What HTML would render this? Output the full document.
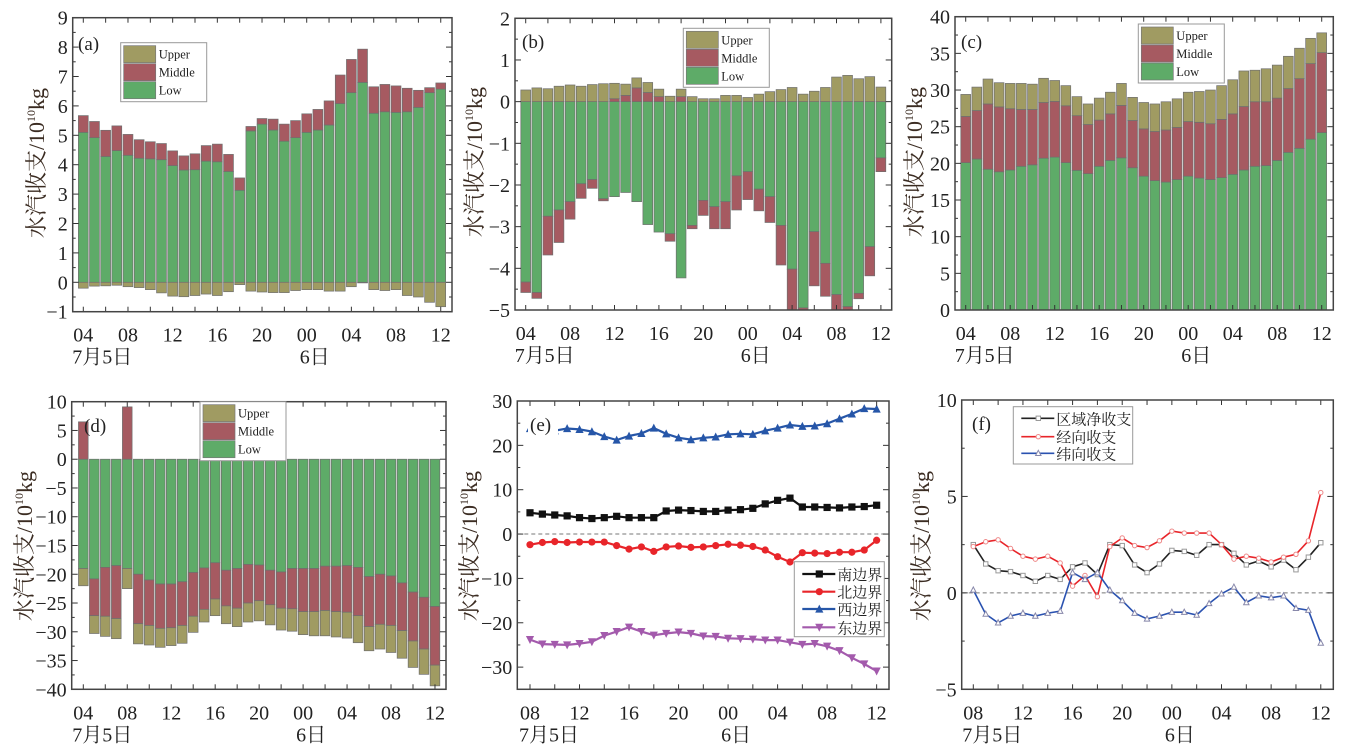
<!DOCTYPE html>
<html><head><meta charset="utf-8"><style>
html,body{margin:0;padding:0;background:#fff;}
svg{display:block;}
text{font-family:"Liberation Serif","Noto Serif CJK SC","Noto Sans CJK SC",serif;fill:#222;}
</style></head><body>
<svg id="fig" width="1356" height="753" viewBox="0 0 1356 753" xmlns="http://www.w3.org/2000/svg">
<rect x="0" y="0" width="1356" height="753" fill="#fff"/>
</svg>
<script>
const catsBar = ['04','05','06','07','08','09','10','11','12','13','14','15','16','17','18','19','20','21','22','23','00','01','02','03','04','05','06','07','08','09','10','11','12'];
const catsLine = ['08','09','10','11','12','13','14','15','16','17','18','19','20','21','22','23','00','01','02','03','04','05','06','07','08','09','10','11','12'];

// (a)
const aLow = [5.1,4.92,4.28,4.48,4.32,4.22,4.2,4.17,3.97,3.82,3.83,4.12,4.1,3.77,3.13,5.15,5.38,5.18,4.8,4.92,5.1,5.18,5.35,6.08,6.45,6.8,5.75,5.8,5.78,5.8,5.95,6.45,6.57];
const aMid = [0.57,0.55,0.89,0.84,0.71,0.63,0.58,0.55,0.5,0.48,0.54,0.53,0.6,0.58,0.42,0.15,0.19,0.37,0.58,0.58,0.63,0.7,0.82,0.97,1.13,1.13,0.9,0.93,0.9,0.8,0.58,0.17,0.21];
const aUp = [-0.2,-0.13,-0.12,-0.1,-0.15,-0.18,-0.25,-0.36,-0.47,-0.49,-0.45,-0.4,-0.45,-0.32,-0.08,-0.3,-0.33,-0.35,-0.35,-0.28,-0.25,-0.25,-0.3,-0.3,-0.15,-0.02,-0.25,-0.28,-0.25,-0.45,-0.5,-0.68,-0.83];
// (b)
const bLow = [-4.33,-4.58,-2.75,-2.6,-2.4,-1.97,-1.87,-2.33,-2.28,-2.18,-2.4,-2.95,-3.13,-3.17,-4.23,-2.97,-2.37,-2.52,-2.4,-1.78,-1.68,-2.1,-2.28,-2.97,-4.02,-4.95,-3.12,-3.88,-4.63,-4.92,-4.6,-3.48,-1.35];
const bMid = [-0.25,-0.14,-0.93,-0.78,-0.42,-0.35,-0.21,-0.05,0.07,0.15,0.33,0.22,0.12,-0.18,0.12,-0.08,-0.36,-0.53,-0.65,-0.82,-0.67,-0.52,-0.62,-0.95,-1.5,-0.15,-1.3,-0.79,-0.6,-0.1,-0.13,-0.7,-0.33];
const bUp = [0.28,0.33,0.31,0.37,0.4,0.37,0.41,0.43,0.37,0.27,0.24,0.24,0.18,0.13,0.18,0.12,0.07,0.07,0.15,0.15,0.1,0.18,0.24,0.29,0.34,0.18,0.25,0.34,0.59,0.63,0.55,0.6,0.35];
// (c)
const cLow = [20.1,20.6,19.2,18.85,19.1,19.6,19.8,20.7,20.85,20.1,19.05,18.6,19.6,20.4,20.75,19.4,18.25,17.65,17.45,17.8,18.25,18.0,17.8,18.05,18.5,19.1,19.6,19.7,20.4,21.5,22.05,23.3,24.2];
const cMid = [6.3,6.6,8.9,8.85,8.35,7.75,7.55,7.6,7.6,7.75,7.45,6.7,6.3,6.35,7.15,6.45,6.45,6.7,7.1,7.1,7.45,7.6,7.6,7.95,8.25,8.65,8.8,8.7,8.5,8.7,9.5,10.3,10.9];
const cUp = [3.0,3.2,3.4,3.3,3.45,3.55,3.45,3.3,2.85,2.75,2.6,2.8,3.0,2.95,3.0,3.15,3.6,3.75,3.85,3.9,4.0,4.2,4.6,4.6,4.65,4.85,4.3,4.5,4.5,4.4,4.15,3.45,2.7];
// (d)
const dLow = [-19,-20.8,-18.8,-18.5,-19,-20,-21,-21.7,-21.7,-21.3,-19.7,-18.9,-18,-19.3,-19,-18.3,-18.4,-19.3,-19.6,-19,-19,-19,-18.6,-18.6,-18.5,-18.8,-20.4,-20,-20.3,-21.5,-23.1,-24,-25.6];
const dMid = [6.5,-6.4,-8.5,-9.2,9.1,-8.6,-7.9,-7.7,-7.6,-7.6,-7.6,-7.2,-6.3,-6.2,-6.9,-6.7,-6.2,-6.0,-6.3,-7.0,-7.5,-7.5,-7.7,-7.9,-8.1,-8.4,-8.7,-8.7,-8.6,-8.3,-8.5,-9.0,-10.2];
const dUp = [-3.0,-3.1,-3.5,-3.5,-3.5,-3.5,-3.4,-3.3,-3.1,-3.1,-2.8,-2.2,-2.9,-3.1,-3.2,-3.3,-3.5,-3.5,-3.8,-3.9,-4.0,-4.2,-4.4,-4.4,-4.5,-4.7,-4.2,-4.3,-4.7,-4.8,-4.6,-4.4,-3.6];
// (e)
const eSouth = [4.8,4.5,4.3,4.1,3.7,3.5,3.7,4.0,3.7,3.7,3.7,5.2,5.4,5.3,5.1,5.1,5.4,5.5,5.8,6.8,7.6,8.1,6.1,6.1,6.0,5.9,6.1,6.2,6.5];
const eNorth = [-2.4,-1.9,-1.7,-1.9,-1.8,-1.8,-1.8,-2.6,-3.4,-2.9,-3.9,-2.9,-2.7,-3.0,-2.9,-2.6,-2.3,-2.5,-2.8,-3.6,-5.1,-6.3,-4.2,-4.3,-4.4,-4.1,-4.1,-3.6,-1.4];
const eWest = [23.8,23.5,23.3,23.8,23.6,23.1,22.0,21.2,22.1,22.7,23.9,22.6,21.7,21.3,21.7,21.9,22.5,22.6,22.5,23.3,23.9,24.6,24.3,24.4,24.9,26.0,27.1,28.3,28.2];
const eEast = [-23.8,-24.8,-24.9,-25.0,-24.7,-24.3,-22.9,-22.0,-21.0,-22.0,-22.8,-22.4,-22.1,-22.4,-23.0,-23.1,-23.5,-23.6,-23.7,-23.9,-23.9,-24.4,-24.9,-24.7,-25.3,-26.3,-27.9,-29.3,-30.9];
// (f)
const fNet = [2.5,1.5,1.15,1.1,0.9,0.6,0.9,0.7,1.35,1.55,0.95,2.5,2.45,1.45,1.05,1.5,2.2,2.15,1.95,2.5,2.5,2.05,1.45,1.65,1.35,1.7,1.2,1.85,2.6];
const fMer = [2.4,2.65,2.75,2.3,1.9,1.75,1.9,1.55,0.35,0.9,-0.2,2.4,2.85,2.45,2.35,2.7,3.2,3.1,3.1,3.1,2.5,1.75,1.9,1.8,1.6,1.85,2.0,2.7,5.2];
const fZon = [0.15,-1.1,-1.55,-1.2,-1.05,-1.2,-1.05,-0.95,1.05,0.7,1.05,0.15,-0.4,-1.05,-1.35,-1.2,-1.0,-1.0,-1.15,-0.55,-0.05,0.3,-0.5,-0.15,-0.25,-0.15,-0.8,-0.9,-2.6];

const ticksA = [9,8,7,6,5,4,3,2,1,0,-1];
const ticksB = [2,1,0,-1,-2,-3,-4,-5];
const ticksC = [40,35,30,25,20,15,10,5,0];
const ticksD = [10,5,0,-5,-10,-15,-20,-25,-30,-35,-40];
const ticksE = [30,20,10,0,-10,-20,-30];
const ticksF = [10,5,0,-5];

const NS = 'http://www.w3.org/2000/svg';
const svg = document.getElementById('fig');
const COL = {low:'#5eab68', mid:'#a65a61', up:'#a09b62'};
function mk(tag, attrs, parent){const e=document.createElementNS(NS,tag);for(const k in attrs)e.setAttribute(k,attrs[k]);(parent||svg).appendChild(e);return e;}
function fmt(v){return v<0?'\u2212'+Math.abs(v):String(v);}

function panel(P){
  const g = mk('g',{});
  
  
  const yS = v => P.top + (P.ymax - v)/(P.ymax-P.ymin)*(P.bot-P.top);
  const xS = i => P.x0 + i*P.dx;
  const cid='clip'+P.id;
  const cp=mk('clipPath',{id:cid},g);
  mk('rect',{x:P.left,y:P.top,width:P.right-P.left,height:P.bot-P.top},cp);
  const plot=mk('g',{'clip-path':'url(#'+cid+')'},g);
  const step = P.yt[0]-P.yt[1];
  P.yt.forEach((v,k)=>{
    const y=yS(v);
    const lab=mk('text',{x:P.left-5,y:y+7,'text-anchor':'end','font-size':20},g);
    lab.textContent=fmt(v);
    
    
    mk('line',{x1:P.left,x2:P.left+6,y1:y,y2:y,stroke:'#333','stroke-width':1},g);
    mk('line',{x1:P.right,x2:P.right-6,y1:y,y2:y,stroke:'#333','stroke-width':1},g);
    if(k<P.yt.length-1){const ym=yS(v-step/2);
      mk('line',{x1:P.left,x2:P.left+3,y1:ym,y2:ym,stroke:'#333','stroke-width':1},g);
      mk('line',{x1:P.right,x2:P.right-3,y1:ym,y2:ym,stroke:'#333','stroke-width':1},g);}
  });
  P.cats.forEach((c,i)=>{
    const x=xS(i);
    if(i%2===0){
      mk('line',{x1:x,x2:x,y1:P.bot,y2:P.bot-5,stroke:'#333','stroke-width':1},g);
      mk('line',{x1:x,x2:x,y1:P.top,y2:P.top+5,stroke:'#333','stroke-width':1},g);
    }
    if(i%4===0){
      const t=mk('text',{x:x,y:P.bot+30,'text-anchor':'middle','font-size':20},g);
      t.textContent=c;
      
      
    }
  });
  const d1=mk('text',{x:xS(0)-11,y:P.bot+52,'font-size':20},g);
  d1.textContent='7月5日';
  
  
  const d2=mk('text',{x:xS(P.cats.indexOf('00'))+8,y:P.bot+52,'text-anchor':'middle','font-size':20},g);
  d2.textContent='6日';
  
  
  const yt=mk('text',{transform:'translate('+P.tx+','+P.ty+') rotate(-90)','text-anchor':'middle','font-size':22,style:'fill:#3b2c22'},g);
  yt.innerHTML='水汽收支/10<tspan font-size="12" dy="-9">10</tspan><tspan dy="9">kg</tspan>';
  
  
  if(P.bars){
    const w=P.dx*0.88;
    P.cats.forEach((c,i)=>{
      let pos=0,neg=0;
      P.bars.forEach(s=>{
        const v=s.vals[i]; let a,b;
        if(v>=0){a=pos;b=pos+v;pos=b;}else{a=neg;b=neg+v;neg=b;}
        const y1=yS(Math.max(a,b)), y2=yS(Math.min(a,b));
        const r=mk('rect',{x:xS(i)-w/2,y:y1,width:w,height:Math.max(0,y2-y1),fill:s.col,stroke:'#6f6f6f','stroke-width':0.7},plot);
        
        
      });
    });
  }
  if(P.lines){
    mk('line',{x1:P.left,x2:P.right,y1:yS(0),y2:yS(0),stroke:'#777','stroke-width':1,'stroke-dasharray':'4,3'},plot);
    P.lines.forEach(s=>{
      const pts=s.vals.map((v,i)=>xS(i).toFixed(1)+','+yS(v).toFixed(1)).join(' ');
      const pl=mk('polyline',{points:pts,fill:'none',stroke:s.col,'stroke-width':s.w},plot);
      
      
      s.vals.forEach((v,i)=>{
        const m=marker(s.mk,xS(i),yS(v),s.col,s.hollow,plot);
        
        
      });
    });
  }
  mk('rect',{x:P.left,y:P.top,width:P.right-P.left,height:P.bot-P.top,fill:'none',stroke:'#444','stroke-width':1.5},g);
  if(P.lbg) mk('rect',{x:P.lx-2,y:P.ly-17,width:30,height:22,fill:'#fff'},g);
  const pl=mk('text',{x:P.lx,y:P.ly,'font-size':19},g);
  pl.textContent='('+P.id+')';
  
  
  return g;
}
function marker(type,x,y,col,hollow,par){
  const f=hollow?'#fff':col, s=hollow?2.2:3.6, sw=hollow?1:0;
  if(type==='sq') return mk('rect',{x:x-s,y:y-s,width:2*s,height:2*s,fill:f,stroke:hollow?'#999':col,'stroke-width':sw},par);
  if(type==='ci') return mk('circle',{cx:x,cy:y,r:s,fill:f,stroke:hollow?'#e88':col,'stroke-width':sw},par);
  if(type==='tu') return mk('polygon',{points:(x)+','+(y-s-0.8)+' '+(x-s-0.5)+','+(y+s)+' '+(x+s+0.5)+','+(y+s),fill:f,stroke:hollow?'#88a':col,'stroke-width':sw},par);
  return mk('polygon',{points:(x)+','+(y+s+0.8)+' '+(x-s-0.5)+','+(y-s)+' '+(x+s+0.5)+','+(y-s),fill:f,stroke:col,'stroke-width':sw},par);
}
function barLegend(x,y){
  const g=mk('g',{});
  
  
  mk('rect',{x:x,y:y,width:86,height:59,fill:'#fff',stroke:'#999','stroke-width':1},g);
  [['Upper',COL.up],['Middle',COL.mid],['Low',COL.low]].forEach((e,k)=>{
    mk('rect',{x:x+3,y:y+3+k*18,width:32,height:17,fill:e[1],stroke:'#777','stroke-width':0.7},g);
    const t=mk('text',{x:x+38,y:y+16+k*18,'font-size':12.5},g);
    t.textContent=e[0];
    
    
  });
}
function lineLegend(x,y,w,h,rows,entries,fs){
  const g=mk('g',{});
  
  
  mk('rect',{x:x,y:y,width:w,height:h,fill:'#fff',stroke:'#999','stroke-width':1},g);
  entries.forEach((e,k)=>{
    const cy=rows[k];
    mk('line',{x1:x+8,x2:x+41,y1:cy,y2:cy,stroke:e.col,'stroke-width':e.w},g);
    marker(e.mk,x+25,cy,e.col,e.hollow,g);
    const t=mk('text',{x:x+43,y:cy+6,'font-size':fs,style:'font-family:"Noto Serif CJK SC","Noto Sans CJK SC",serif'},g);
    t.textContent=e.name;
    
    
  });
}
const barSeries=(l,m,u)=>[{name:'low',vals:l,col:COL.low},{name:'middle',vals:m,col:COL.mid},{name:'upper',vals:u,col:COL.up}];

panel({id:'a',left:72.7,right:452,top:17.7,bot:311.7,ymax:9,ymin:-1,yt:ticksA,cats:catsBar,x0:83.3,dx:11.17,bars:barSeries(aLow,aMid,aUp),tx:44,ty:163,lx:78,ly:50});
barLegend(120.7,42.7);
panel({id:'b',left:515,right:891.7,top:18.3,bot:310,ymax:2,ymin:-5,yt:ticksB,cats:catsBar,x0:525.7,dx:11.1,bars:barSeries(bLow,bMid,bUp),tx:482,ty:162,lx:522,ly:48});
barLegend(683.3,28.3);
panel({id:'c',left:955,right:1333.3,top:16.7,bot:310,ymax:40,ymin:0,yt:ticksC,cats:catsBar,x0:965.7,dx:11.125,bars:barSeries(cLow,cMid,cUp),tx:922,ty:162,lx:961,ly:48});
barLegend(1138.3,24);
panel({id:'d',left:71.7,right:446,top:401.7,bot:689.3,ymax:10,ymin:-40,yt:ticksD,cats:catsBar,x0:83.3,dx:10.99,bars:barSeries(dLow,dMid,dUp),tx:32,ty:546,lx:84,ly:432});
barLegend(200,401.7);
const eS=[{name:'south',vals:eSouth,col:'#111',mk:'sq',w:2.2},{name:'north',vals:eNorth,col:'#e8252a',mk:'ci',w:2.2},{name:'west',vals:eWest,col:'#2656a8',mk:'tu',w:2.2},{name:'east',vals:eEast,col:'#a35aac',mk:'td',w:2.2}];
panel({id:'e',left:517.3,right:889,top:401,bot:689.3,ymax:30,ymin:-35,yt:ticksE,cats:catsLine,x0:530,dx:12.38,lines:eS,tx:477,ty:546,lx:530,ly:431,lbg:true});
lineLegend(794.3,561.7,90,75,[574,591.7,609,627.3],[{name:'南边界',col:'#111',mk:'sq',w:2.2},{name:'北边界',col:'#e8252a',mk:'ci',w:2.2},{name:'西边界',col:'#2656a8',mk:'tu',w:2.2},{name:'东边界',col:'#a35aac',mk:'td',w:2.2}],15);
const fS=[{name:'net',vals:fNet,col:'#222',mk:'sq',w:1.6,hollow:true},{name:'meridional',vals:fMer,col:'#e8252a',mk:'ci',w:1.6,hollow:true},{name:'zonal',vals:fZon,col:'#2a52b0',mk:'tu',w:1.6,hollow:true}];
panel({id:'f',left:961.7,right:1333.3,top:400,bot:689.3,ymax:10,ymin:-5,yt:ticksF,cats:catsLine,x0:973.3,dx:12.41,lines:fS,tx:929,ty:546,lx:972,ly:430});
lineLegend(1013.3,406.7,119.4,57.3,[418.3,436.7,453.3],[{name:'区域净收支',col:'#222',mk:'sq',w:1.6,hollow:true},{name:'经向收支',col:'#e8252a',mk:'ci',w:1.6,hollow:true},{name:'纬向收支',col:'#2a52b0',mk:'tu',w:1.6,hollow:true}],15);
</script>
</body></html>
